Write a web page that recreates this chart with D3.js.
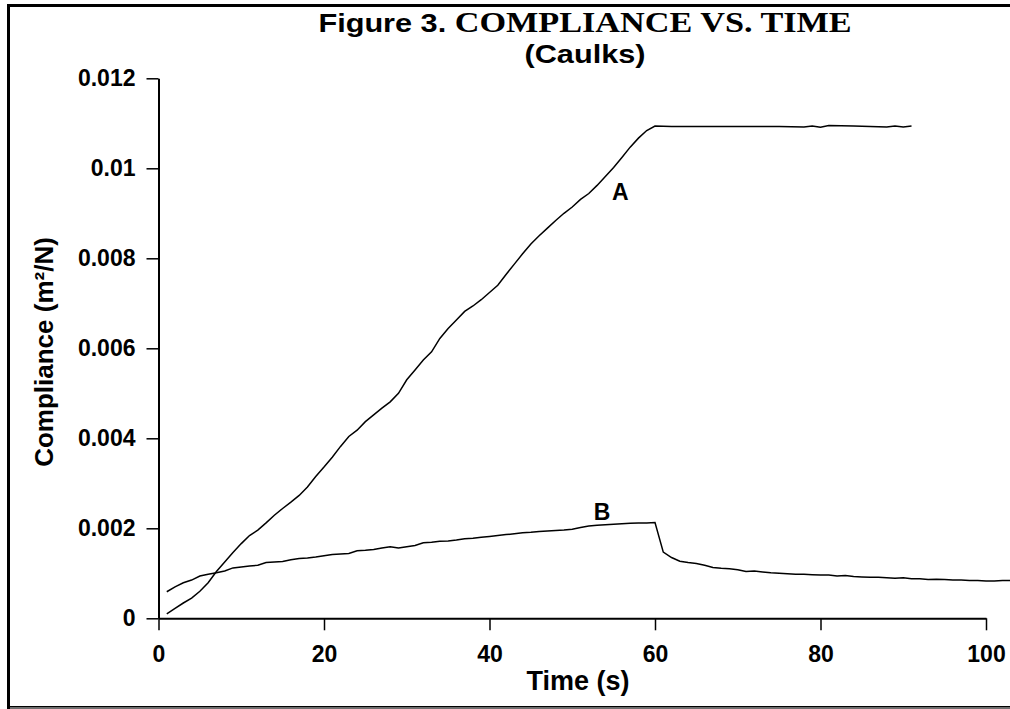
<!DOCTYPE html>
<html>
<head>
<meta charset="utf-8">
<script src="https://cdn.jsdelivr.net/npm/d3@7"></script>
<style>
  body { margin: 0; background: #fff; }
  svg { display: block; }
  text { font-family: "Liberation Sans", Arial, sans-serif; font-weight: bold; }
</style>
</head>
<body>
<div id="viz"></div>
<script>
// time (s) and compliance (m2/N)
const timeA = [1, 2, 3, 4, 5, 6, 7, 8, 9, 10, 11, 12, 13, 14, 15, 16, 17, 18, 19, 20,
    21, 22, 23, 24, 25, 26, 27, 28, 29, 30, 31, 32, 33, 34, 35, 36, 37, 38, 39, 40,
    41, 42, 43, 44, 45, 46, 47, 48, 49, 50, 51, 52, 53, 54, 55, 56, 57, 58, 59, 60,
    62, 65, 70, 75, 78, 79, 80, 81, 84, 88, 89, 90, 91];
const compA = [0.0001, 0.00022, 0.00034, 0.00045, 0.0006, 0.00079, 0.00104, 0.00125, 0.00146, 0.00166,
    0.00184, 0.00196, 0.00212, 0.00229, 0.00244, 0.00258, 0.00273, 0.00292, 0.00315, 0.00336,
    0.00358, 0.00382, 0.00404, 0.00418, 0.00437, 0.00452, 0.00467, 0.00481, 0.005, 0.0053,
    0.00552, 0.00574, 0.00592, 0.00622, 0.00644, 0.00663, 0.00682, 0.00694, 0.00708, 0.00724,
    0.0074, 0.00764, 0.00787, 0.0081, 0.00832, 0.0085, 0.00867, 0.00884, 0.009, 0.00914,
    0.00931, 0.00944, 0.00962, 0.00982, 0.01002, 0.01024, 0.01047, 0.01067, 0.01084, 0.01094,
    0.01093, 0.01093, 0.01093, 0.01093, 0.01092, 0.01094, 0.01091, 0.01095, 0.01094, 0.01092,
    0.01094, 0.01092, 0.01094];

const timeB = d3.range(1, 104);
const compB = [0.00059, 0.0007, 0.00079, 0.00085, 0.00094, 0.00098, 0.00101, 0.00105, 0.00112, 0.00114,
    0.00116, 0.00118, 0.00124, 0.00125, 0.00126, 0.0013, 0.00133, 0.00134, 0.00136, 0.00139,
    0.00142, 0.00143, 0.00144, 0.0015, 0.00151, 0.00153, 0.00156, 0.00159, 0.00156, 0.00159,
    0.00162, 0.00168, 0.00169, 0.00171, 0.00172, 0.00174, 0.00177, 0.00178, 0.0018, 0.00182,
    0.00184, 0.00186, 0.00188, 0.0019, 0.00191, 0.00193, 0.00194, 0.00195, 0.00196, 0.00198,
    0.00202, 0.00205, 0.00207, 0.00208, 0.00209, 0.0021, 0.00211, 0.00212, 0.00212, 0.00213,
    0.00147, 0.00135, 0.00127, 0.00124, 0.00122, 0.00118, 0.00113, 0.00111, 0.0011, 0.00108,
    0.00104, 0.00105, 0.00103, 0.00101, 0.001, 0.00099, 0.00098, 0.00098, 0.00097, 0.00096,
    0.00096, 0.00094, 0.00095, 0.00093, 0.00092, 0.00091, 0.00091, 0.0009, 0.00089, 0.0009,
    0.00088, 0.00088, 0.00086, 0.00087, 0.00086, 0.00085, 0.00085, 0.00084, 0.00084, 0.00083,
    0.00083, 0.00084, 0.00084];

const xTicks = [0, 20, 40, 60, 80, 100];
const yTicks = [0, 0.002, 0.004, 0.006, 0.008, 0.01, 0.012];
const yTickLabels = ['0', '0.002', '0.004', '0.006', '0.008', '0.01', '0.012'];

const width = 1010, height = 709;

let xScale = d3.scaleLinear()
    .domain([0, 100])
    .range([158.5, 986]);

let yScale = d3.scaleLinear()
    .domain([0, 0.012])
    .range([618.3, 78.3]);

let svg = d3.select('#viz')
    .append('svg')
    .attr('width', width)
    .attr('height', height);

// frame (only top / left edges fall inside the picture)
svg.append('rect')
    .attr('x', 8.5).attr('y', 5.5)
    .attr('width', 1010).attr('height', 702)
    .attr('fill', 'none')
    .attr('stroke', '#000')
    .attr('stroke-width', 3);
svg.append('line')
    .attr('x1', 10).attr('x2', width)
    .attr('y1', 708).attr('y2', 708)
    .attr('stroke', '#ddd');

// title, a bit wider than the plain font
let title = svg.append('text')
    .attr('transform', 'translate(585,32) scale(1.18,1)')
    .attr('text-anchor', 'middle')
    .style('font-size', '26px');
title.append('tspan').text('Figure 3. ');
title.append('tspan')
    .style('font-family', '"Liberation Serif", "Times New Roman", serif')
    .style('font-size', '29px')
    .text('COMPLIANCE VS. TIME');
svg.append('text')
    .attr('transform', 'translate(585,63) scale(1.18,1)')
    .attr('text-anchor', 'middle')
    .style('font-size', '26px')
    .text('(Caulks)');

// axes
let xAxis = svg.append('g')
    .attr('transform', `translate(0,${yScale(0)})`)
    .call(d3.axisBottom(xScale)
        .tickValues(xTicks)
        .tickSize(12)
        .tickSizeOuter(0)
        .tickPadding(15)
        .tickFormat(d3.format('d')));

let yAxis = svg.append('g')
    .attr('transform', `translate(${xScale(0)},0)`)
    .call(d3.axisLeft(yScale)
        .tickValues(yTicks)
        .tickSize(12)
        .tickSizeOuter(0)
        .tickPadding(11)
        .tickFormat((d, i) => yTickLabels[i]));

svg.selectAll('.domain')
    .attr('stroke', '#000')
    .attr('stroke-width', 2);
svg.selectAll('.tick line')
    .attr('stroke', '#000')
    .attr('stroke-width', 1.5);
svg.selectAll('.tick text')
    .attr('fill', '#000')
    .style('font-family', '"Liberation Sans", Arial, sans-serif')
    .style('font-weight', 'bold')
    .style('font-size', '23px');

svg.append('text')
    .attr('x', 578).attr('y', 690)
    .attr('text-anchor', 'middle')
    .style('font-size', '27px')
    .text('Time (s)');

svg.append('text')
    .attr('transform', 'translate(53,352) rotate(-90)')
    .attr('text-anchor', 'middle')
    .style('font-size', '26px')
    .text('Compliance (m²/N)');

// curves
svg.append('clipPath')
    .attr('id', 'clip')
    .append('rect')
    .attr('x', 0).attr('y', 0)
    .attr('width', width).attr('height', height);

let line = d3.line()
    .x(d => xScale(d[0]))
    .y(d => yScale(d[1]));

let seriesA = timeA.map((t, i) => [t, compA[i]]);
let seriesB = timeB.map((t, i) => [t, compB[i]]);

svg.selectAll('path.curve')
    .data([seriesA, seriesB])
    .enter()
    .append('path')
    .attr('class', 'curve')
    .attr('clip-path', 'url(#clip)')
    .attr('d', line)
    .attr('fill', 'none')
    .attr('stroke', '#000')
    .attr('stroke-width', 1.5);

// curve labels
svg.append('text')
    .attr('x', xScale(55.8)).attr('y', yScale(0.00929))
    .attr('text-anchor', 'middle')
    .style('font-size', '23px')
    .text('A');
svg.append('text')
    .attr('x', xScale(53.6)).attr('y', yScale(0.00218))
    .attr('text-anchor', 'middle')
    .style('font-size', '23px')
    .text('B');
</script>
</body>
</html>
